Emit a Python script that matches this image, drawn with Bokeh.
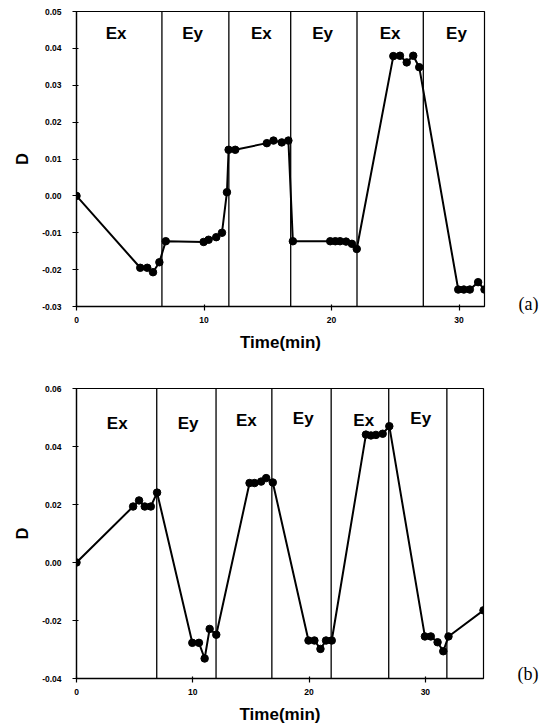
from bokeh.plotting import figure
from bokeh.layouts import column
from bokeh.models import Range1d, FixedTicker, NumeralTickFormatter, Span, LinearAxis
from bokeh.core.properties import value
from bokeh.embed import file_html
from bokeh.resources import INLINE

# ---------------- data ----------------
# panel (a)
a_time = [0, 5.0, 5.55, 6.0, 6.5, 7.0, 9.97, 10.36, 10.96, 11.41, 11.8, 11.93, 12.45,
          14.93, 15.45, 16.1, 16.62, 16.97, 19.9, 20.3, 20.67, 21.14, 21.6, 21.98,
          24.85, 25.37, 25.9, 26.41, 26.88, 29.94, 30.38, 30.85, 31.5, 32.0]
a_D = [0.0, -0.0195, -0.0195, -0.0207, -0.018, -0.0123, -0.0125, -0.0119, -0.0112, -0.0100,
       0.0010, 0.0125, 0.0125, 0.0143, 0.0150, 0.0145, 0.0150, -0.0123, -0.0123, -0.0123,
       -0.0123, -0.0124, -0.0130, -0.0144, 0.0379, 0.0380, 0.0362, 0.0380, 0.0349,
       -0.0254, -0.0254, -0.0254, -0.0234, -0.0254]
a_dividers = [6.7, 11.95, 16.8, 22.0, 27.2]
a_field_x = [3.1, 9.1, 14.5, 19.3, 24.6, 29.8]
a_field_y = [0.0441, 0.0441, 0.0441, 0.0441, 0.0441, 0.0441]
a_field_text = ["Ex", "Ey", "Ex", "Ey", "Ex", "Ey"]
a_xticks = [0, 10, 20, 30]
a_yticks = [-0.03, -0.02, -0.01, 0.0, 0.01, 0.02, 0.03, 0.04, 0.05]
a_tag = "(a)"
a_tag_y = -0.0294

# panel (b)
b_time = [0, 4.87, 5.38, 5.87, 6.39, 6.93, 9.96, 10.53, 11.02, 11.45, 12.02,
          14.88, 15.31, 15.88, 16.31, 16.88, 19.95, 20.46, 20.98, 21.46, 21.95,
          24.89, 25.32, 25.75, 26.33, 26.9, 29.96, 30.47, 31.05, 31.54, 31.99, 35.0]
b_D = [0.0, 0.0193, 0.0214, 0.0193, 0.0193, 0.0241, -0.0277, -0.0277, -0.0331, -0.0229, -0.0249,
       0.0274, 0.0274, 0.0279, 0.0291, 0.0276, -0.0269, -0.0269, -0.0298, -0.0269, -0.0269,
       0.0441, 0.0438, 0.0440, 0.0444, 0.0470, -0.0255, -0.0255, -0.0275, -0.0306, -0.0255, -0.0165]
b_dividers = [6.9, 12.0, 16.8, 21.9, 26.85, 31.85]
b_field_x = [3.5, 9.6, 14.6, 19.5, 24.7, 29.6]
b_field_y = [0.048, 0.048, 0.049, 0.0495, 0.049, 0.0495]
b_field_text = ["Ex", "Ey", "Ex", "Ey", "Ex", "Ey"]
b_xticks = [0, 10, 20, 30]
b_yticks = [-0.04, -0.02, 0.0, 0.02, 0.04, 0.06]
b_tag = "(b)"
b_tag_y = -0.0384

FONT = "Liberation Sans"


def make_panel(t, d, dividers, fx, fy, ftext, xticks, yticks, xr, yr,
               tag, tag_y, fw, fh, bl, br, bt, bb):
    p = figure(frame_width=fw, frame_height=fh, output_backend="svg", toolbar_location=None,
               x_range=Range1d(*xr), y_range=Range1d(*yr),
               min_border_left=bl, min_border_right=br, min_border_top=bt, min_border_bottom=bb)
    p.background_fill_color = "white"
    p.border_fill_color = "white"
    p.outline_line_color = "black"
    p.outline_line_width = 1.2
    p.xgrid.visible = False
    p.ygrid.visible = False

    for xv in dividers:
        p.add_layout(Span(location=xv, dimension="height", line_color="black", line_width=1.3))

    p.line(t, d, line_color="black", line_width=2)
    p.scatter(t, d, size=7.5, fill_color="black", line_color="black")

    p.text(x=fx, y=fy, text=ftext, text_font=value(FONT), text_font_style="bold",
           text_font_size="17px", text_align="center", text_baseline="middle", text_color="black")

    for ax in (p.xaxis[0], p.yaxis[0]):
        ax.axis_line_color = "black"
        ax.axis_line_width = 1.3
        ax.major_tick_line_color = "black"
        ax.major_tick_line_width = 1.2
        ax.major_tick_in = 2
        ax.major_tick_out = 4
        ax.minor_tick_line_color = None
        ax.major_label_text_font = FONT
        ax.major_label_text_font_style = "bold"
        ax.major_label_text_font_size = "8.5px"
        ax.major_label_text_color = "black"
        ax.axis_label_text_font = FONT
        ax.axis_label_text_font_style = "bold"
        ax.axis_label_text_color = "black"

    p.xaxis.ticker = FixedTicker(ticks=xticks)
    p.yaxis.ticker = FixedTicker(ticks=yticks)
    p.yaxis.formatter = NumeralTickFormatter(format="0.00")
    p.xaxis.major_label_standoff = 6
    p.yaxis.major_label_standoff = 11
    p.xaxis.axis_label = "Time(min)"
    p.yaxis.axis_label = "D"
    p.xaxis.axis_label_text_font_size = "17px"
    p.yaxis.axis_label_text_font_size = "16px"
    p.xaxis.axis_label_standoff = 7
    p.yaxis.axis_label_standoff = 8

    # panel tag "(a)"/"(b)" as a bare right-hand axis label
    tag_axis = LinearAxis(ticker=FixedTicker(ticks=[tag_y]),
                          major_label_overrides={tag_y: tag})
    tag_axis.axis_line_color = None
    tag_axis.major_tick_line_color = None
    tag_axis.minor_tick_line_color = None
    tag_axis.major_label_standoff = 28
    tag_axis.major_label_text_font = "Liberation Serif"
    tag_axis.major_label_text_font_size = "18px"
    tag_axis.major_label_text_color = "black"
    p.add_layout(tag_axis, "right")
    return p


pa = make_panel(a_time, a_D, a_dividers, a_field_x, a_field_y, a_field_text,
                a_xticks, a_yticks, (0, 32), (-0.03, 0.05),
                a_tag, a_tag_y, 408, 295, 74, 55, 11, 45)
pb = make_panel(b_time, b_D, b_dividers, b_field_x, b_field_y, b_field_text,
                b_xticks, b_yticks, (0, 35), (-0.04, 0.06),
                b_tag, b_tag_y, 407, 290, 76, 54, 34, 42)

layout = column(pa, pb, spacing=0)
open("out.html", "w").write(file_html(layout, INLINE))
